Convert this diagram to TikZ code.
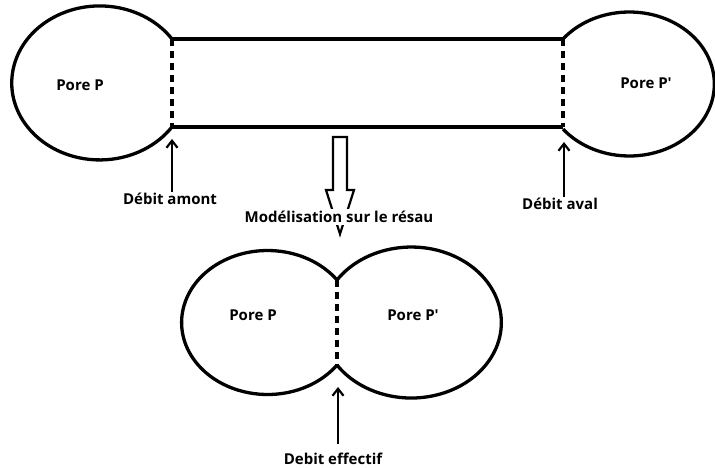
\documentclass[tikz,border=0pt]{standalone}
\usepackage{fontspec}
\setmainfont{Open Sans}
\usetikzlibrary{arrows.meta}
\begin{document}
\begin{tikzpicture}[x=1pt,y=1pt,
  wall/.style={line width=3.3pt},
  throat/.style={line width=4.5pt,dash pattern=on 7pt off 5pt},
  flow/.style={line width=2.2pt,-{Straight Barb[length=7pt,width=11pt,line width=2.2pt]}},
  lbl/.style={font=\bfseries\fontsize{15}{17}\selectfont,inner sep=1pt},
  bigarrow/.style={line width=2.2pt,line join=miter}]
\useasboundingbox (0,0) rectangle (715,468);
% ---- top: tube between two pores
\coordinate (tl) at (172,429);
\coordinate (bl) at (172,341);
\coordinate (tr) at (563,429);
\coordinate (br) at (563,341);
\draw[wall] (tl) -- (tr);
\draw[wall] (bl) -- (br);
\draw[wall] (tl) arc[start angle=34.8,end angle=325.2,x radius=88,y radius=77];
\draw[wall] (tr) arc[start angle=141.3,end angle=-141.3,x radius=85,y radius=72];
\draw[throat] (tl) -- (bl);
\draw[throat] (tr) -- (br);
\node[lbl] (p1) at (80,383) {Pore P};
\node[lbl] (p2) at (646,385) {Pore P\textquotesingle};
% flows
\node[lbl] (am) at (170,269) {Débit amont};
\node[lbl] (av) at (560,264) {Débit aval};
\coordinate (amt) at (172,329);
\coordinate (avt) at (564,326);
\draw[flow] (am.north -| amt) -- (amt);
\draw[flow] (av.north -| avt) -- (avt);
% hollow arrow
\draw[bigarrow] (333,331) -- (347,331) -- (347,278) -- (354,278) -- (340,234)
  -- (326,278) -- (333,278) -- cycle;
\node[lbl,fill=white,inner sep=2pt] (mod) at (339,251) {Modélisation sur le résau};
% ---- bottom: two pores
\coordinate (jt) at (337,188);
\coordinate (jb) at (337,103);
\draw[wall] (jt) arc[start angle=36.2,end angle=323.8,x radius=86,y radius=72];
\draw[wall] (jt) arc[start angle=145.7,end angle=-145.7,x radius=90,y radius=75.5];
\draw[throat] (jt) -- (jb);
\node[lbl] (q1) at (253,153) {Pore P};
\node[lbl] (q2) at (413,153) {Pore P\textquotesingle};
\node[lbl] (ef) at (333,9) {Debit effectif};
\coordinate (eft) at (338,81);
\draw[flow] (ef.north -| eft) ++(0,8) -- (eft);
\end{tikzpicture}
\end{document}
